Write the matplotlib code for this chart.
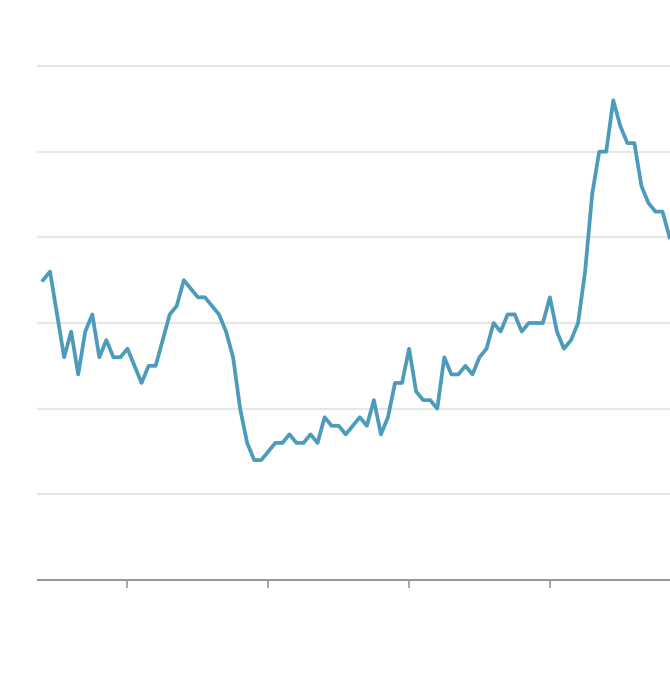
import matplotlib
matplotlib.use("Agg")
import matplotlib.pyplot as plt

values = [3.5, 3.6, 3.1, 2.6, 2.9, 2.4, 2.9, 3.1, 2.6, 2.8,
          2.6, 2.6, 2.7, 2.5, 2.3, 2.5, 2.5, 2.8, 3.1, 3.2,
          3.5, 3.4, 3.3, 3.3, 3.2, 3.1, 2.9, 2.6, 2.0, 1.6,
          1.4, 1.4, 1.5, 1.6, 1.6, 1.7, 1.6, 1.6, 1.7, 1.6,
          1.9, 1.8, 1.8, 1.7, 1.8, 1.9, 1.8, 2.1, 1.7, 1.9,
          2.3, 2.3, 2.7, 2.2, 2.1, 2.1, 2.0, 2.6, 2.4, 2.4,
          2.5, 2.4, 2.6, 2.7, 3.0, 2.9, 3.1, 3.1, 2.9, 3.0,
          3.0, 3.0, 3.3, 2.9, 2.7, 2.8, 3.0, 3.6, 4.5, 5.0,
          5.0, 5.6, 5.3, 5.1, 5.1, 4.6, 4.4, 4.3, 4.3, 4.0]
periods = list(range(len(values)))
tick_positions = [12, 32, 52, 72]
grid_levels = [1, 2, 3, 4, 5, 6]

fig = plt.figure(figsize=(6.7, 6.8), dpi=100)
ax = fig.add_axes([38 / 670, 1 - 580 / 680, 1 - 38 / 670, (580 - 66) / 680])

for level in grid_levels:
    ax.axhline(level, color="#e6e6e6", linewidth=1.5, zorder=1, clip_on=False)

ax.plot(periods, values, color="#4c9bbb", linewidth=2.7, zorder=3)

ax.set_xlim(-0.71, 89.06)
ax.set_ylim(0, 6)
ax.set_xticks(tick_positions)
ax.set_xticklabels([])
ax.set_yticks([])
ax.tick_params(axis="x", length=6, width=1.2, color="#999999")

for side in ["top", "right", "left"]:
    ax.spines[side].set_visible(False)
ax.spines["bottom"].set_color("#999999")
ax.spines["bottom"].set_linewidth(1.5)

fig.savefig("out.png", dpi=100, facecolor="white")
